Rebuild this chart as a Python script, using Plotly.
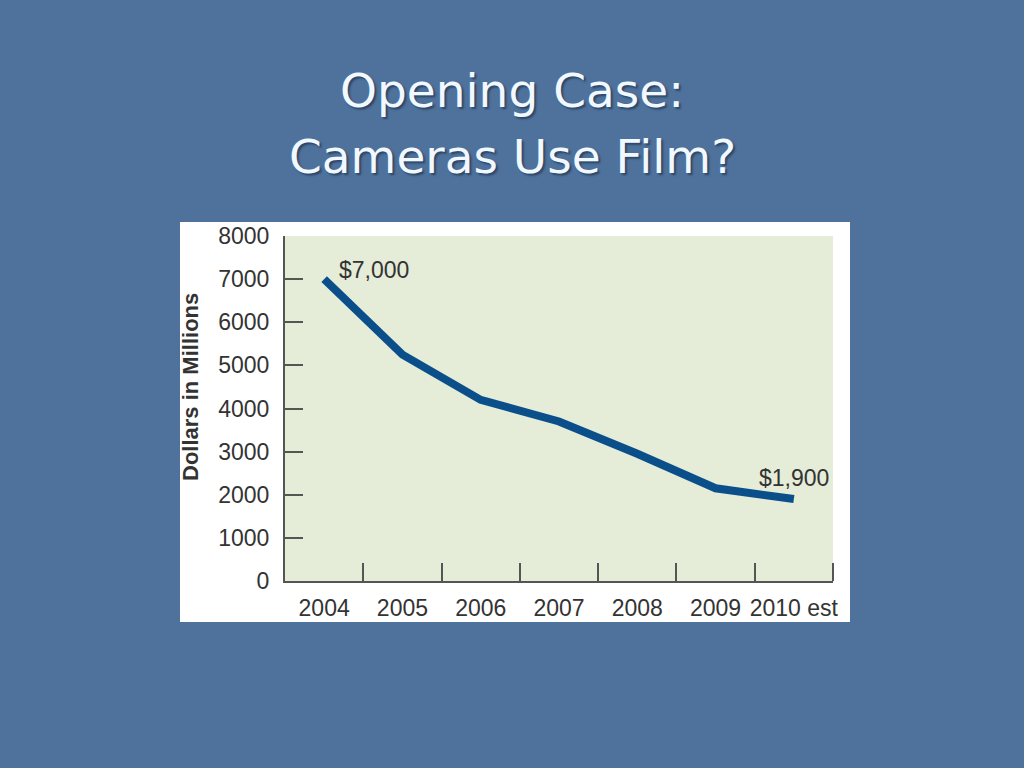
import plotly.graph_objects as go

# ---- data ----
years = ["2004", "2005", "2006", "2007", "2008", "2009", "2010 est"]
sales = [7000, 5250, 4200, 3700, 2950, 2150, 1900]
y_ticks = [0, 1000, 2000, 3000, 4000, 5000, 6000, 7000, 8000]
title_lines = ["Opening Case:", "Cameras Use Film?"]
y_title = "Dollars in Millions"

# category centres and bin boundaries on a numeric axis
x_pos = [i + 0.5 for i in range(len(years))]
x_bounds = list(range(1, len(years) + 1))

# ---- style ----
BG = "#4e729c"
GREEN = "#e5ecd8"
LINE = "#0b4f8a"
AXIS = "#555555"
TXT = "#333333"
FONT = "Liberation Sans, Arial, sans-serif"

L, R, T, B = 285, 191, 236, 187
W, H = 1024, 768
pw, ph = W - L - R, H - T - B


def px(x):
    return (x - L) / pw


def py(y):
    return (H - B - y) / ph


fig = go.Figure()
fig.add_trace(go.Scatter(
    x=x_pos, y=sales, mode="lines",
    line=dict(color=LINE, width=8),
    hoverinfo="skip", showlegend=False,
))

annotations = []
# value labels at first and last point
annotations.append(dict(
    x=x_pos[0], y=sales[0], xref="x", yref="y",
    text=f"${sales[0]:,.0f}", showarrow=False,
    xanchor="left", yanchor="middle", xshift=13, yshift=9,
    font=dict(family=FONT, size=23, color=TXT),
))
annotations.append(dict(
    x=x_pos[-1], y=sales[-1], xref="x", yref="y",
    text=f"${sales[-1]:,.0f}", showarrow=False,
    xanchor="center", yanchor="middle", xshift=0, yshift=21,
    font=dict(family=FONT, size=23, color=TXT),
))
# y axis title
annotations.append(dict(
    x=px(190.5), y=py(387.5), xref="paper", yref="paper",
    text=f"<b>{y_title}</b>", showarrow=False, textangle=-90,
    xanchor="center", yanchor="middle",
    font=dict(family=FONT, size=22, color=TXT),
))
# slide title
for line, yc in zip(title_lines, [91, 156]):
    annotations.append(dict(
        x=px(512), y=py(yc), xref="paper", yref="paper",
        text=line, showarrow=False, xanchor="center", yanchor="middle",
        font=dict(family="DejaVu Sans, Verdana, sans-serif", size=47,
                  color="#f2f8ff", shadow="2px 2px 2px #2c4666"),
    ))

shapes = [
    dict(type="rect", xref="paper", yref="paper",
         x0=px(180), x1=px(850), y0=py(622), y1=py(222),
         fillcolor="white", line=dict(width=0), layer="below"),
    dict(type="rect", xref="paper", yref="paper",
         x0=0, x1=1, y0=0, y1=1,
         fillcolor=GREEN, line=dict(width=0), layer="below"),
]

fig.update_layout(
    width=W, height=H,
    margin=dict(l=L, r=R, t=T, b=B, pad=0),
    paper_bgcolor=BG, plot_bgcolor="rgba(0,0,0,0)",
    annotations=annotations, shapes=shapes,
    showlegend=False,
    xaxis=dict(
        range=[0, len(years)], showgrid=False, zeroline=False,
        showline=True, linecolor=AXIS, linewidth=2,
        tickvals=x_pos, ticktext=years, ticks="",
        tickfont=dict(family=FONT, size=23, color=TXT),
        ticklabelstandoff=5,
        minor=dict(tickvals=x_bounds, ticks="inside", ticklen=18,
                   tickcolor=AXIS, tickwidth=2, showgrid=False),
        fixedrange=True,
    ),
    yaxis=dict(
        range=[0, 8000], showgrid=False, zeroline=False,
        showline=True, linecolor=AXIS, linewidth=2,
        tickvals=y_ticks, ticktext=[str(v) for v in y_ticks],
        ticks="inside", ticklen=18, tickcolor=AXIS, tickwidth=2,
        tickfont=dict(family=FONT, size=23, color=TXT),
        ticklabelstandoff=9,
        fixedrange=True,
    ),
)

fig.write_html(
    "out.html",
    config={"displayModeBar": False},
    post_script="document.body.style.margin='0';"
                "document.body.style.background='" + BG + "';",
)
